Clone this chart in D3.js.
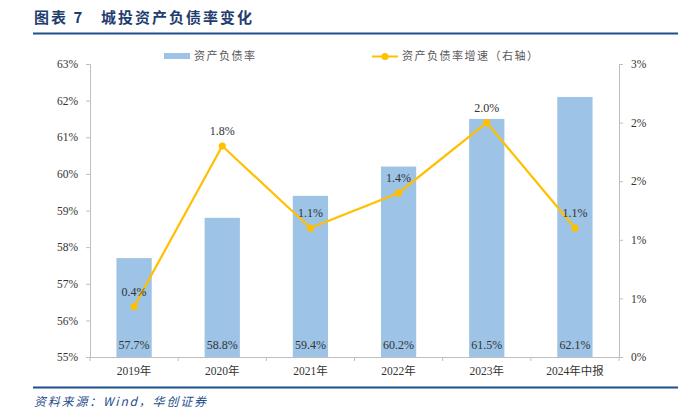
<!DOCTYPE html>
<html><head><meta charset="utf-8">
<script src="https://cdn.jsdelivr.net/npm/d3@7"></script>
<style>body{margin:0;background:#fff;}svg{display:block;}</style>
</head><body>
<svg id="c" width="678" height="419"></svg>
<script>
const categories = ["2019年","2020年","2021年","2022年","2023年","2024年中报"];
const debtRatio = [57.7, 58.8, 59.4, 60.2, 61.5, 62.1];
const debtGrowth = [0.43, 1.8, 1.1, 1.4, 2.0, 1.1];
const leftTicks = [55,56,57,58,59,60,61,62,63];
const rightTicks = [0,0.5,1,1.5,2,2.5];
const rightTickLabels = ["0%","1%","1%","2%","2%","3%"];

const svg = d3.select("#c");
const serif = "'Liberation Serif','Times New Roman','Noto Sans CJK SC',serif";
const cjk = "'Noto Sans CJK SC',sans-serif";
const L = 90, R = 619, T = 64, B = 357;

// Title
svg.append("text").attr("x",34).attr("y",23).attr("font-family",cjk).attr("font-weight","bold")
  .attr("font-size",15).attr("fill","#1F3D6E").attr("letter-spacing",2).text("图表 7");
svg.append("text").attr("x",101).attr("y",23).attr("font-family",cjk).attr("font-weight","bold")
  .attr("font-size",15).attr("fill","#1F3D6E").attr("letter-spacing",2).text("城投资产负债率变化");
svg.append("line").attr("x1",33).attr("x2",678).attr("y1",33.5).attr("y2",33.5)
  .attr("stroke","#1F4E8C").attr("stroke-width",2);

const x = d3.scaleBand().domain(categories).range([L,R]).paddingInner(0.6).paddingOuter(0.3);
const xb = d3.scaleBand().domain(categories).range([L,R]);
const yL = d3.scaleLinear().domain([55,63]).range([B,T]);
const yR = d3.scaleLinear().domain([0,2.5]).range([B,T]);

// Bars
svg.selectAll("rect.bar").data(debtRatio).enter().append("rect")
  .attr("x",(d,i)=>x(categories[i])).attr("width",x.bandwidth())
  .attr("y",d=>yL(d)).attr("height",d=>B-yL(d)).attr("fill","#9DC3E6");

// Axes
const gL = svg.append("g").attr("transform",`translate(${L},0)`)
  .call(d3.axisLeft(yL).tickValues(leftTicks).tickFormat(d=>d+"%").tickSize(4).tickPadding(8));
const gR = svg.append("g").attr("transform",`translate(${R},0)`)
  .call(d3.axisRight(yR).tickValues(rightTicks).tickFormat((d,i)=>rightTickLabels[i]).tickSize(4).tickPadding(8));
const gB = svg.append("g").attr("transform",`translate(0,${B})`)
  .call(d3.axisBottom(xb).tickSize(0).tickPadding(10));
svg.selectAll("line.bt").data(d3.range(categories.length+1)).enter().append("line")
  .attr("x1",i=>L+i*xb.step()).attr("x2",i=>L+i*xb.step()).attr("y1",B).attr("y2",B+4)
  .attr("stroke","#bfbfbf");
[gL,gR,gB].forEach(g=>{
  g.select(".domain").attr("stroke","#bfbfbf");
  g.selectAll(".tick line").attr("stroke","#bfbfbf");
  g.selectAll(".tick text").attr("font-family",serif).attr("font-size",11.5).attr("fill","#333");
});
gB.select(".domain").attr("d",`M${L},0.5H${R}`);

// Bar labels
svg.selectAll("text.bl").data(debtRatio).enter().append("text")
  .attr("x",(d,i)=>x(categories[i])+x.bandwidth()/2).attr("y",B-8)
  .attr("text-anchor","middle").attr("font-family",serif).attr("font-size",12).attr("fill","#333")
  .text(d=>d.toFixed(1)+"%");

// Line
const cx = i=>x(categories[i])+x.bandwidth()/2;
svg.append("path").datum(debtGrowth)
  .attr("d",d3.line().x((d,i)=>cx(i)).y(d=>yR(d)))
  .attr("fill","none").attr("stroke","#FFC000").attr("stroke-width",2.2);
svg.selectAll("circle.pt").data(debtGrowth).enter().append("circle")
  .attr("cx",(d,i)=>cx(i)).attr("cy",d=>yR(d)).attr("r",3.6).attr("fill","#FFC000");
svg.selectAll("text.ll").data(debtGrowth).enter().append("text")
  .attr("x",(d,i)=>cx(i)).attr("y",d=>yR(d)-11)
  .attr("text-anchor","middle").attr("font-family",serif).attr("font-size",12).attr("fill","#333")
  .text(d=>d.toFixed(1)+"%");

// Legend
svg.append("rect").attr("x",164).attr("y",53).attr("width",26).attr("height",6).attr("fill","#9DC3E6");
svg.append("text").attr("x",194).attr("y",60).attr("font-family",cjk).attr("font-size",11)
  .attr("fill","#595959").attr("letter-spacing",1.5).text("资产负债率");
svg.append("line").attr("x1",372).attr("x2",398).attr("y1",56.5).attr("y2",56.5).attr("stroke","#FFC000").attr("stroke-width",2);
svg.append("circle").attr("cx",385).attr("cy",56.5).attr("r",3.5).attr("fill","#FFC000");
svg.append("text").attr("x",402).attr("y",60).attr("font-family",cjk).attr("font-size",11)
  .attr("fill","#595959").attr("letter-spacing",1.5).text("资产负债率增速（右轴）");

// Footer
svg.append("line").attr("x1",33).attr("x2",678).attr("y1",387.5).attr("y2",387.5)
  .attr("stroke","#1F4E8C").attr("stroke-width",2);
svg.append("text").attr("x",34).attr("y",406).attr("font-family",cjk).attr("font-style","italic")
  .attr("font-size",12).attr("fill","#1F4E8C").attr("letter-spacing",1.8).text("资料来源：Wind，华创证券");
</script>
</body></html>
